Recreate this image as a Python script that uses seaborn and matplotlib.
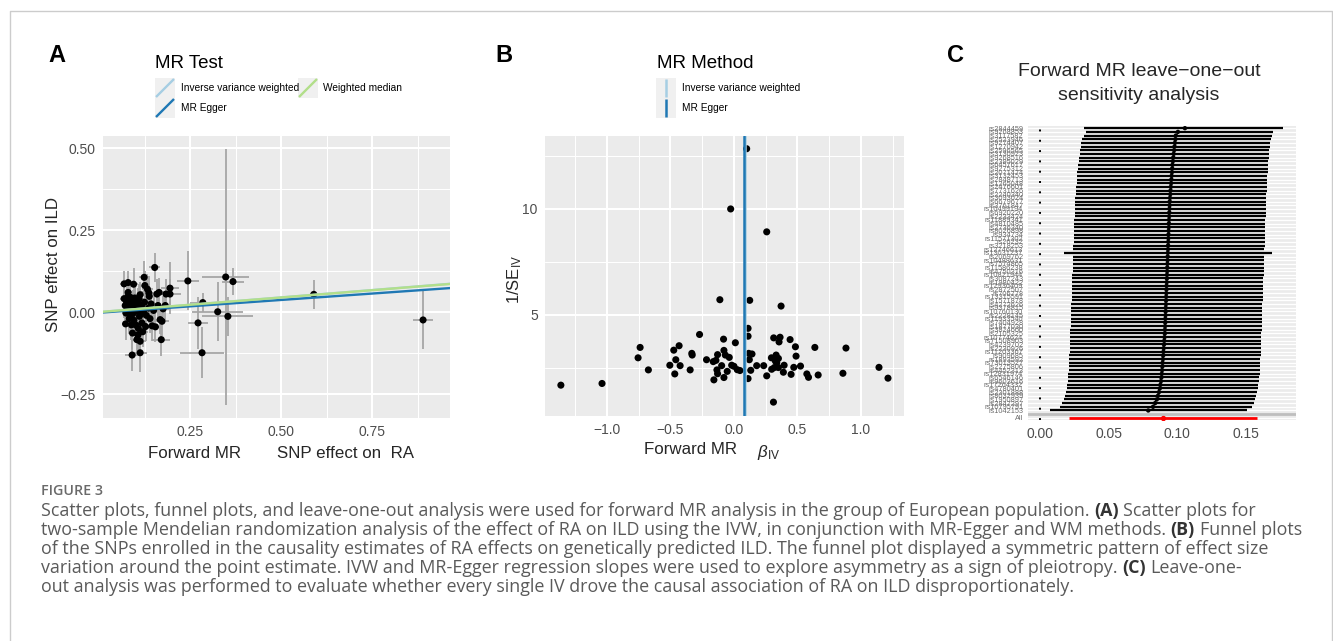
import numpy as np
import pandas as pd
import matplotlib
matplotlib.use("Agg")
import matplotlib.pyplot as plt
import seaborn as sns
from matplotlib.patches import Rectangle
from matplotlib.ticker import FixedLocator

# ---------------- data ----------------
# Panel A: SNP effects (exposure RA, outcome ILD) with standard errors
ra_beta = [0.069, 0.080, 0.069, 0.074, 0.073, 0.080, 0.085, 0.082, 0.087, 0.089,
           0.092, 0.091, 0.094, 0.098, 0.100, 0.104, 0.113, 0.113, 0.111, 0.106,
           0.113, 0.118, 0.124, 0.126, 0.122, 0.128, 0.136, 0.137, 0.138, 0.146,
           0.153, 0.159, 0.162, 0.168, 0.171, 0.173, 0.182, 0.184, 0.195, 0.195,
           0.244, 0.272, 0.283, 0.285, 0.326, 0.348, 0.354, 0.368, 0.590, 0.890,
           0.072, 0.076, 0.078, 0.083, 0.086, 0.090, 0.093, 0.096, 0.099, 0.102,
           0.105, 0.108, 0.110, 0.115, 0.117, 0.120, 0.125, 0.130, 0.133, 0.140,
           0.143, 0.150, 0.155, 0.165, 0.176, 0.080, 0.095, 0.107]
ild_beta = [0.086, 0.090, 0.041, -0.003, -0.036, 0.048, 0.032, 0.012, -0.013, -0.039,
            -0.064, -0.131, 0.022, 0.043, 0.002, -0.084, -0.089, -0.124, -0.013, 0.027,
            0.053, -0.033, 0.106, 0.081, 0.002, -0.044, 0.012, 0.058, 0.048, -0.042,
            0.136, 0.055, 0.020, -0.023, -0.084, -0.028, 0.020, 0.055, 0.073, 0.055,
            0.095, -0.033, -0.124, 0.029, 0.001, 0.107, -0.013, 0.093, 0.054, -0.024,
            0.020, 0.030, 0.005, -0.020, 0.045, 0.015, -0.005, -0.025, 0.030, -0.040,
            0.010, -0.050, 0.040, -0.005, 0.020, -0.060, 0.030, -0.010, 0.070, -0.020,
            0.025, 0.005, -0.045, 0.060, 0.010, 0.060, 0.085, -0.070]
ra_se = [0.012, 0.012, 0.010, 0.010, 0.010, 0.014, 0.012, 0.010, 0.012, 0.012,
         0.012, 0.020, 0.015, 0.015, 0.012, 0.015, 0.015, 0.020, 0.015, 0.012,
         0.015, 0.015, 0.015, 0.015, 0.012, 0.015, 0.015, 0.015, 0.015, 0.015,
         0.015, 0.015, 0.015, 0.015, 0.025, 0.020, 0.020, 0.020, 0.025, 0.030,
         0.030, 0.027, 0.060, 0.035, 0.070, 0.065, 0.070, 0.030, 0.010, 0.028,
         0.010, 0.010, 0.010, 0.012, 0.012, 0.012, 0.012, 0.012, 0.012, 0.015,
         0.012, 0.015, 0.015, 0.015, 0.015, 0.015, 0.015, 0.015, 0.015, 0.015,
         0.015, 0.015, 0.015, 0.015, 0.020, 0.010, 0.012, 0.015]
ild_se = [0.040, 0.035, 0.060, 0.050, 0.050, 0.045, 0.040, 0.045, 0.040, 0.045,
          0.050, 0.050, 0.045, 0.050, 0.040, 0.045, 0.045, 0.060, 0.045, 0.045,
          0.040, 0.045, 0.050, 0.045, 0.040, 0.045, 0.045, 0.045, 0.040, 0.045,
          0.045, 0.045, 0.040, 0.045, 0.050, 0.045, 0.040, 0.045, 0.080, 0.045,
          0.090, 0.080, 0.078, 0.030, 0.090, 0.390, 0.060, 0.040, 0.044, 0.090,
          0.045, 0.045, 0.040, 0.045, 0.040, 0.040, 0.045, 0.045, 0.045, 0.045,
          0.040, 0.045, 0.045, 0.040, 0.045, 0.045, 0.045, 0.040, 0.045, 0.045,
          0.045, 0.040, 0.045, 0.045, 0.040, 0.050, 0.050, 0.050]

# MR estimates
method_names = ["Inverse variance weighted", "MR Egger", "Weighted median"]
method_slope = [0.0895, 0.078, 0.089]
method_intercept = [0.0, -0.002, 0.0]
method_colors = ["#A6CEE3", "#1F78B4", "#B2DF8A"]

# Panel B: funnel plot (beta_IV, 1/SE_IV)
funnel_beta = [-1.363, -1.039, -0.755, -0.739, -0.674, -0.505, -0.474, -0.458, -0.466, -0.432,
               -0.424, -0.345, -0.332, -0.329, -0.271, -0.216, -0.163, -0.158, -0.142, -0.134,
               -0.129, -0.129, -0.111, -0.097, -0.082, -0.079, -0.079, -0.068, -0.053, -0.037,
               -0.026, -0.018, 0.0, 0.011, 0.026, 0.047, 0.100, 0.111, 0.111, 0.111,
               0.116, 0.121, 0.124, 0.132, 0.142, 0.179, 0.234, 0.258, 0.258, 0.295,
               0.297, 0.311, 0.313, 0.318, 0.326, 0.332, 0.337, 0.350, 0.350, 0.355,
               0.363, 0.371, 0.389, 0.395, 0.442, 0.450, 0.471, 0.484, 0.489, 0.524,
               0.574, 0.587, 0.637, 0.663, 0.858, 0.882, 1.142, 1.213]
funnel_invse = [1.69, 1.77, 2.98, 3.47, 2.41, 2.63, 3.34, 2.89, 2.22, 3.55,
                2.61, 2.41, 3.19, 3.11, 4.08, 2.89, 2.80, 1.94, 2.86, 2.41,
                3.13, 2.23, 5.72, 2.61, 3.86, 3.33, 2.05, 3.11, 2.34, 3.00,
                10.0, 2.63, 2.58, 3.69, 2.42, 2.38, 12.84, 4.37, 4.00, 2.00,
                3.19, 2.89, 5.69, 2.39, 3.16, 2.61, 2.61, 8.92, 2.13, 2.98,
                2.44, 0.89, 3.92, 2.52, 2.83, 3.11, 2.75, 2.95, 2.52, 3.73,
                3.95, 5.42, 2.30, 2.63, 3.84, 2.20, 2.53, 3.50, 3.06, 2.59,
                2.22, 2.06, 3.47, 2.17, 2.25, 3.44, 2.53, 2.02]

# Panel C: leave-one-out (top to bottom)
loo_snps = ["rs2844459", "rs9268853", "rs3117582", "rs2523946", "rs9274407", "rs1270942",
            "rs2596565", "rs3130923", "rs9268516", "rs2395029", "rs6457617", "rs9275312",
            "rs2071474", "rs3132453", "rs2848713", "rs1265048", "rs2476601", "rs7731626",
            "rs2240340", "rs3093024", "rs6679677", "rs3761847", "rs10499194", "rs6920220",
            "rs2233424", "rs11889341", "rs4810485", "rs2736340", "rs8026898", "rs934734",
            "rs11571302", "rs26232", "rs3218253", "rs12746613", "rs13031237", "rs2069762",
            "rs10488631", "rs7574865", "rs11586238", "rs4750316", "rs10821944", "rs3087243",
            "rs1980422", "rs12936409", "rs2872507", "rs706778", "rs13315591", "rs1571878",
            "rs4272626", "rs9378815", "rs10760130", "rs2228145", "rs11933540", "rs7404928",
            "rs1877030", "rs3824660", "rs2105325", "rs10774624", "rs71508903", "rs4239702",
            "rs2230926", "rs11203367", "rs909685", "rs1893592", "rs73013527", "rs2275806",
            "rs4452313", "rs12831974", "rs6546146", "rs9603616", "rs17264332", "rs4780401",
            "rs2301888", "rs8032939", "rs1950897", "rs2847297", "rs10795791", "rs1042153"]
loo_b = [0.1056, 0.1005, 0.0990, 0.0986, 0.0983, 0.0980, 0.0977, 0.0974, 0.0971, 0.0968,
         0.0965, 0.0963, 0.0961, 0.0959, 0.0957, 0.0955, 0.0953, 0.0951, 0.0949, 0.0947,
         0.0945, 0.0944, 0.0943, 0.0942, 0.0941, 0.0940, 0.0939, 0.0938, 0.0937, 0.0936,
         0.0935, 0.0934, 0.0933, 0.0932, 0.0931, 0.0930, 0.0929, 0.0928, 0.0927, 0.0926,
         0.0925, 0.0924, 0.0923, 0.0922, 0.0921, 0.0920, 0.0919, 0.0918, 0.0917, 0.0916,
         0.0915, 0.0914, 0.0913, 0.0912, 0.0911, 0.0910, 0.0909, 0.0907, 0.0905, 0.0903,
         0.0901, 0.0899, 0.0897, 0.0895, 0.0893, 0.0891, 0.0889, 0.0887, 0.0884, 0.0881,
         0.0877, 0.0872, 0.0866, 0.0859, 0.0850, 0.0838, 0.0823, 0.0788]
loo_lo = [0.0317, 0.0330, 0.0318, 0.0305, 0.0300, 0.0296, 0.0292, 0.0288, 0.0284, 0.0280,
          0.0276, 0.0273, 0.0270, 0.0268, 0.0266, 0.0264, 0.0262, 0.0260, 0.0258, 0.0256,
          0.0254, 0.0252, 0.0251, 0.0250, 0.0249, 0.0248, 0.0247, 0.0246, 0.0245, 0.0244,
          0.0243, 0.0242, 0.0241, 0.0240, 0.0173, 0.0239, 0.0238, 0.0237, 0.0236, 0.0235,
          0.0234, 0.0233, 0.0232, 0.0231, 0.0230, 0.0229, 0.0228, 0.0227, 0.0226, 0.0225,
          0.0224, 0.0223, 0.0222, 0.0221, 0.0220, 0.0219, 0.0218, 0.0217, 0.0216, 0.0215,
          0.0214, 0.0213, 0.0212, 0.0211, 0.0210, 0.0208, 0.0206, 0.0204, 0.0201, 0.0198,
          0.0195, 0.0191, 0.0186, 0.0180, 0.0170, 0.0156, 0.0141, 0.0073]
loo_hi = [0.1770, 0.1700, 0.1690, 0.1682, 0.1678, 0.1675, 0.1672, 0.1670, 0.1668, 0.1666,
          0.1664, 0.1662, 0.1660, 0.1658, 0.1656, 0.1655, 0.1654, 0.1653, 0.1652, 0.1651,
          0.1650, 0.1649, 0.1648, 0.1647, 0.1646, 0.1645, 0.1644, 0.1643, 0.1642, 0.1641,
          0.1640, 0.1639, 0.1638, 0.1637, 0.1690, 0.1636, 0.1635, 0.1634, 0.1633, 0.1632,
          0.1631, 0.1630, 0.1629, 0.1628, 0.1627, 0.1626, 0.1625, 0.1624, 0.1623, 0.1622,
          0.1621, 0.1620, 0.1619, 0.1618, 0.1617, 0.1616, 0.1615, 0.1614, 0.1613, 0.1612,
          0.1611, 0.1610, 0.1609, 0.1608, 0.1607, 0.1606, 0.1604, 0.1602, 0.1600, 0.1597,
          0.1593, 0.1589, 0.1584, 0.1578, 0.1570, 0.1560, 0.1548, 0.1512]
all_b, all_lo, all_hi = 0.0895, 0.021, 0.158

caption_head = "FIGURE 3"
caption_lines = [
    [("Scatter plots, funnel plots, and leave-one-out analysis were used for forward MR analysis in the group of European population.", False),
     ("(A)", True), ("Scatter plots for", False)],
    [("two-sample Mendelian randomization analysis of the effect of RA on ILD using the IVW, in conjunction with MR-Egger and WM methods.", False),
     ("(B)", True), ("Funnel plots", False)],
    [("of the SNPs enrolled in the causality estimates of RA effects on genetically predicted ILD. The funnel plot displayed a symmetric pattern of effect size", False)],
    [("variation around the point estimate. IVW and MR-Egger regression slopes were used to explore asymmetry as a sign of pleiotropy.", False),
     ("(C)", True), ("Leave-one-", False)],
    [("out analysis was performed to evaluate whether every single IV drove the causal association of RA on ILD disproportionately.", False)],
]

# ---------------- figure ----------------
W, H = 1333, 641
sns.set_theme(style="darkgrid")
plt.rcParams['font.family'] = ['Liberation Sans', 'DejaVu Sans']
plt.rcParams['mathtext.fontset'] = 'custom'
plt.rcParams['mathtext.rm'] = 'Liberation Sans'
plt.rcParams['mathtext.it'] = 'Liberation Sans:italic'
plt.rcParams['mathtext.bf'] = 'Liberation Sans:bold'
plt.rcParams['axes.unicode_minus'] = True

fig = plt.figure(figsize=(W / 100, H / 100), dpi=100)
fig.patch.set_facecolor('white')


def px_axes(x0, y0, x1, y1):
    return fig.add_axes([x0 / W, 1 - y1 / H, (x1 - x0) / W, (y1 - y0) / H])


def gg_style(ax, xminor=None, yminor=None):
    ax.set_facecolor('#EBEBEB')
    for s in ax.spines.values():
        s.set_visible(False)
    if xminor is not None:
        ax.xaxis.set_minor_locator(FixedLocator(xminor))
    if yminor is not None:
        ax.yaxis.set_minor_locator(FixedLocator(yminor))
    ax.set_axisbelow(True)
    ax.grid(which='major', color='white', linewidth=1.45)
    ax.grid(which='minor', color='white', linewidth=0.75)
    ax.tick_params(axis='both', which='major', length=3.2, width=1.1, color='#333333',
                   labelsize=10, labelcolor='#4D4D4D', pad=2)
    ax.tick_params(axis='both', which='minor', length=0)
    ax.set_xlabel('')
    ax.set_ylabel('')


MINUS = "\u2212"

# ---- Panel A ----
axA = px_axes(103, 136, 450, 418)
dfA = pd.DataFrame({"ra": ra_beta, "ild": ild_beta, "ra_se": ra_se, "ild_se": ild_se})
axA.vlines(dfA["ra"], dfA["ild"] - dfA["ild_se"], dfA["ild"] + dfA["ild_se"],
           color='#A6A6A6', linewidth=1.3, zorder=2)
axA.hlines(dfA["ild"], dfA["ra"] - dfA["ra_se"], dfA["ra"] + dfA["ra_se"],
           color='#A6A6A6', linewidth=1.3, zorder=2)
sns.scatterplot(data=dfA, x="ra", y="ild", ax=axA, color='black', s=26,
                edgecolor='none', linewidth=0, zorder=3, legend=False)
for nm, b, a, c in zip(method_names, method_slope, method_intercept, method_colors):
    axA.axline((0, a), slope=b, color=c, linewidth=1.7, zorder=4)
gg_style(axA, xminor=[0.125, 0.375, 0.625, 0.875], yminor=[-0.125, 0.125, 0.375])
axA.set_xlim(0.011, 0.964)
axA.set_ylim(-0.323, 0.537)
axA.set_xticks([0.25, 0.5, 0.75])
axA.set_xticklabels(["0.25", "0.50", "0.75"])
axA.set_yticks([-0.25, 0, 0.25, 0.5])
axA.set_yticklabels([MINUS + "0.25", "0.00", "0.25", "0.50"])

# ---- Panel B ----
axB = px_axes(545, 136, 904, 416)
dfB = pd.DataFrame({"b": funnel_beta, "inv": funnel_invse})
sns.scatterplot(data=dfB, x="b", y="inv", ax=axB, color='black', s=26,
                edgecolor='none', linewidth=0, zorder=3, legend=False)
axB.axvline(method_slope[0], color=method_colors[0], linewidth=1.8, zorder=4)
axB.axvline(method_slope[1], color=method_colors[1], linewidth=1.8, zorder=5)
gg_style(axB, xminor=[-1.25, -0.75, -0.25, 0.25, 0.75, 1.25], yminor=[2.5, 7.5, 12.5])
axB.set_xlim(-1.488, 1.339)
axB.set_ylim(0.236, 13.44)
axB.set_xticks([-1, -0.5, 0, 0.5, 1])
axB.set_xticklabels([MINUS + "1.0", MINUS + "0.5", "0.0", "0.5", "1.0"])
axB.set_yticks([5, 10])
axB.set_yticklabels(["5", "10"])

# ---- Panel C ----
axC = px_axes(1028, 126, 1296, 420)
levels = ["All", ""] + list(reversed(loo_snps))
ypos = {lab: i + 1 for i, lab in enumerate(levels)}
dfC = pd.DataFrame({"snp": loo_snps, "b": loo_b, "lo": loo_lo, "hi": loo_hi})
dfC["y"] = dfC["snp"].map(ypos)
axC.set_facecolor('#EBEBEB')
for s in axC.spines.values():
    s.set_visible(False)
axC.grid(False)
for yv in range(1, len(levels) + 1):
    axC.axhline(yv, color='white', linewidth=1.0, zorder=0.5)
axC.axvline(0, color='black', linewidth=1.4, linestyle=(0, (1, 4.3)), zorder=1)
axC.axhline(ypos[""], color='#BEBEBE', linewidth=2.0, zorder=1)
axC.hlines(dfC["y"], dfC["lo"], dfC["hi"], color='black', linewidth=1.6, zorder=2)
sns.scatterplot(data=dfC, x="b", y="y", ax=axC, color='black', s=10,
                edgecolor='none', linewidth=0, zorder=3, legend=False)
axC.hlines([ypos["All"]], [all_lo], [all_hi], color='#FF0000', linewidth=2.0, zorder=2)
axC.scatter([all_b], [ypos["All"]], color='#FF0000', s=8, zorder=3)
axC.set_xlim(-0.0091, 0.1868)
axC.set_ylim(0.4, len(levels) + 0.6)
axC.set_xticks([0, 0.05, 0.10, 0.15])
axC.set_xticklabels(["0.00", "0.05", "0.10", "0.15"])
axC.set_yticks(list(range(1, len(levels) + 1)))
axC.set_yticklabels(levels)
axC.tick_params(axis='x', length=3.2, width=1.1, color='#333333', labelsize=10,
                labelcolor='#4D4D4D', pad=2)
axC.tick_params(axis='y', length=2.5, width=0.5, color='#333333', labelsize=5.3,
                labelcolor='#6E6E6E', pad=1)
axC.set_xlabel('')
axC.set_ylabel('')

# ---- overlay for text, legends, frame ----
ov = fig.add_axes([0, 0, 1, 1], zorder=10)
ov.set_xlim(0, W)
ov.set_ylim(H, 0)
ov.axis('off')
ov.patch.set_alpha(0)

ov.plot([9.5, 9.5, 1331.5, 1331.5], [H, 10.5, 10.5, H], color='#CCCCCC', linewidth=1.0)

for lab, x in [("A", 57), ("B", 504), ("C", 955)]:
    ov.text(x, 55, lab, fontsize=17, fontweight='bold', ha='center', va='center', color='black')

# legend A
ov.text(155, 64, "MR Test", fontsize=13.5, ha='left', va='center', color='black')
keysA = [(155, 78, 0), (155, 98, 1), (298, 78, 2)]
for kx, ky, i in keysA:
    ov.add_patch(Rectangle((kx, ky), 20, 20, facecolor='#F0F0F0', edgecolor='none'))
    ov.plot([kx + 1, kx + 19], [ky + 19, ky + 1], color=method_colors[i], linewidth=1.7,
            solid_capstyle='butt')
ov.text(181, 88, method_names[0], fontsize=7.3, ha='left', va='center', color='black')
ov.text(181, 108, method_names[1], fontsize=7.3, ha='left', va='center', color='black')
ov.text(323, 88, method_names[2], fontsize=7.3, ha='left', va='center', color='black')

# legend B
ov.text(657, 64, "MR Method", fontsize=13.5, ha='left', va='center', color='black')
for ky, i in [(78, 0), (98, 1)]:
    ov.add_patch(Rectangle((656, ky), 20, 20, facecolor='#F0F0F0', edgecolor='none'))
    ov.plot([666, 666], [ky + 1, ky + 19], color=method_colors[i], linewidth=1.8,
            solid_capstyle='butt')
ov.text(682, 88, method_names[0], fontsize=7.3, ha='left', va='center', color='black')
ov.text(682, 108, method_names[1], fontsize=7.3, ha='left', va='center', color='black')

# axis titles
ov.text(54, 265, "SNP effect on ILD", fontsize=12.2, rotation=90, ha='center', va='center')
ov.text(148, 453, "Forward MR", fontsize=12.2, ha='left', va='center')
ov.text(277, 453, "SNP effect on  RA", fontsize=12.2, ha='left', va='center')
ov.text(515, 279, r"$1/\mathrm{SE}_{\mathrm{IV}}$", fontsize=12, rotation=90, ha='center', va='center')
ov.text(644, 450, "Forward MR", fontsize=12.2, ha='left', va='center')
ov.text(757, 452, r"$\beta_{\mathrm{IV}}$", fontsize=12.2, ha='left', va='center')

# panel C title
ov.text(1139, 72, "Forward MR leave" + MINUS + "one" + MINUS + "out", fontsize=14, ha='center', va='center')
ov.text(1139, 96, "sensitivity analysis", fontsize=14, ha='center', va='center')

# caption
fig.canvas.draw()
rend = fig.canvas.get_renderer()
CAP_FONT = 'Open Sans'
CAP_X = 41


def text_w(s, size, weight='normal'):
    t = ov.text(0, 300, s, fontsize=size, fontweight=weight, family=CAP_FONT)
    w = t.get_window_extent(renderer=rend).width
    t.remove()
    return w


def line_w(segs, size):
    sp = text_w("a a", size) - text_w("aa", size)
    tot = 0
    for j, (s, b) in enumerate(segs):
        tot += text_w(s, size, 'bold' if b else 'normal')
        if j < len(segs) - 1:
            tot += sp
    return tot


base = 12.0
cap_size = base * 1212.0 / line_w(caption_lines[0], base)
space_w = text_w("a a", cap_size) - text_w("aa", cap_size)

ov.text(CAP_X, 491, caption_head, fontsize=cap_size * 0.8, family=CAP_FONT, color='#6A6A6A',
        ha='left', va='center', fontweight='semibold')
for k, segs in enumerate(caption_lines):
    y = 511 + 19.1 * k
    x = CAP_X
    for j, (s, b) in enumerate(segs):
        t = ov.text(x, y, s, fontsize=cap_size, family=CAP_FONT,
                    fontweight='bold' if b else 'normal',
                    color='#333333' if b else '#5A5A5A', ha='left', va='center')
        x += t.get_window_extent(renderer=rend).width + space_w

fig.savefig("out.png", dpi=100, facecolor='white')
